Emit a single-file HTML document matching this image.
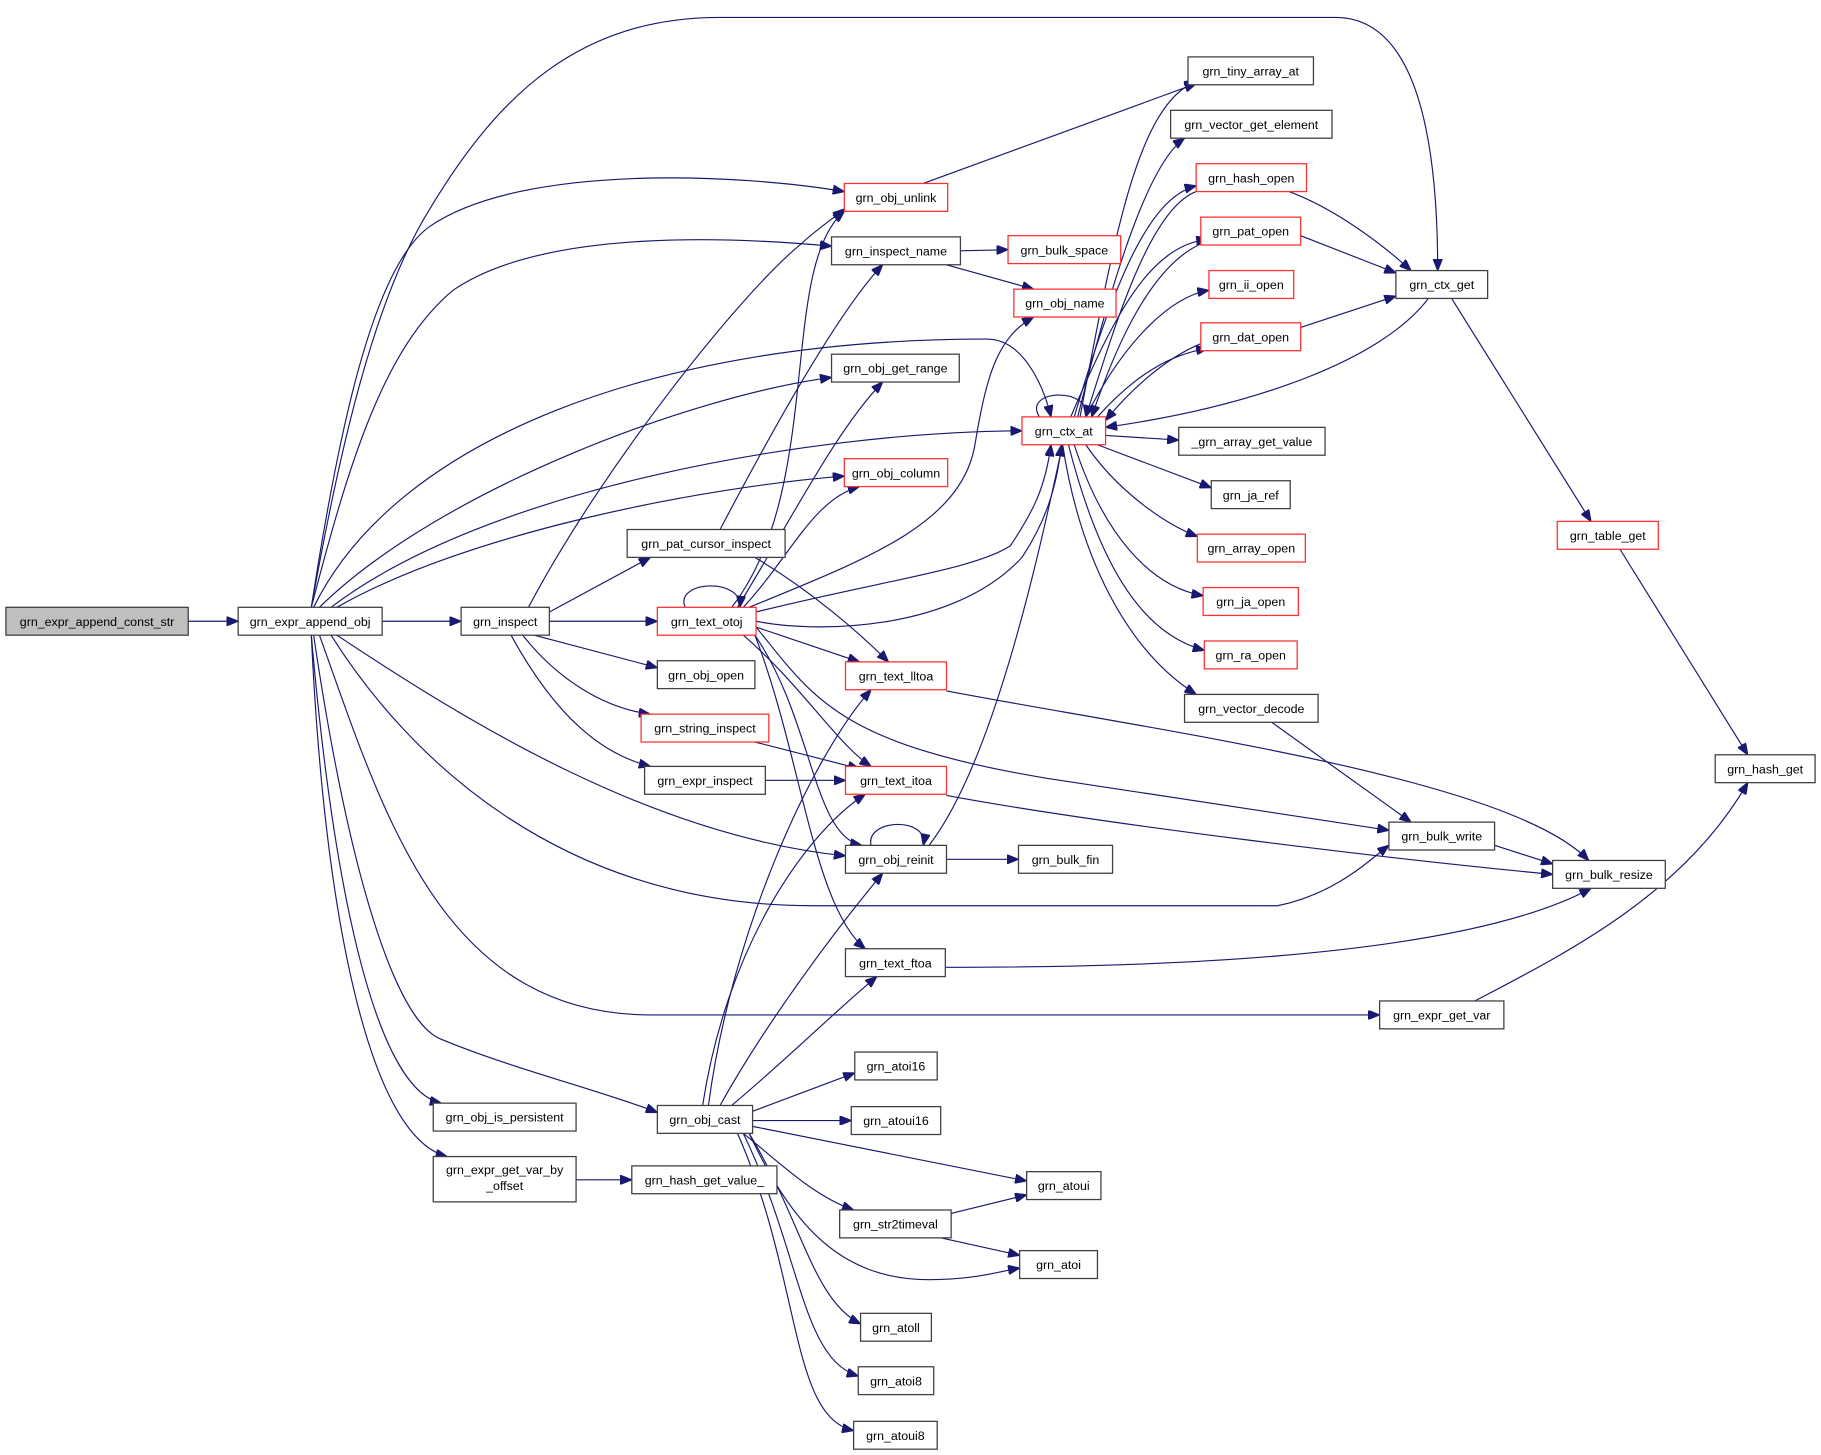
<!DOCTYPE html>
<html><head><meta charset="utf-8"><style>
html,body{margin:0;padding:0;background:#fff;}
svg{display:block;}
text{font-family:"Liberation Sans",sans-serif;font-size:10.7px;fill:#000;text-anchor:middle;}
.n{fill:#fff;stroke:#404040;stroke-width:1.1;}
.r{fill:#fff;stroke:#ff3030;stroke-width:1.1;}
.g{fill:#bfbfbf;stroke:#404040;stroke-width:1.1;}
path.e{fill:none;stroke:#191970;stroke-width:1;marker-end:url(#a);}
</style></head><body>
<svg width="1821" height="1455" viewBox="0 0 1568 1253" xmlns="http://www.w3.org/2000/svg">
<defs><marker id="a" viewBox="0 0 10 8" refX="10" refY="4" markerWidth="10" markerHeight="8" markerUnits="userSpaceOnUse" orient="auto"><path d="M0,0 L10,4 L0,8 z" fill="#191970" stroke="#191970"/></marker></defs>

<path class="e" d="M162,535 L205,535"/>
<path class="e" d="M329,535 L397,535"/>
<path class="e" d="M268,523 C290,400 320,260 370,180 C430,80 500,15 620,15 L1150,15 C1220,15 1238,120 1238,233"/>
<path class="e" d="M268,523 C290,380 320,230 370,195 C450,140 640,150 727,165"/>
<path class="e" d="M268,523 C300,400 330,300 390,250 C470,195 640,205 716,212"/>
<path class="e" d="M270,523 C340,380 560,292 850,292 C880,292 898,330 905,359"/>
<path class="e" d="M275,523 C380,420 600,340 716,325"/>
<path class="e" d="M285,523 C420,420 700,372 880,371"/>
<path class="e" d="M290,523 C400,460 600,420 727,410"/>
<path class="e" d="M290,547 C400,620 560,720 728,737"/>
<path class="e" d="M285,547 C350,650 480,780 700,780 L1100,780 C1150,770 1180,740 1196,728"/>
<path class="e" d="M275,547 C330,700 380,874 560,874 L1188,874"/>
<path class="e" d="M270,547 C300,750 340,880 380,895 C440,920 520,940 566,958"/>
<path class="e" d="M268,547 C290,800 330,940 380,950"/>
<path class="e" d="M268,547 C280,800 320,980 385,996"/>
<path class="e" d="M455,523 C520,400 640,250 690,210 C700,200 715,190 727,180"/>
<path class="e" d="M473,527 L560,480"/>
<path class="e" d="M473,535 L566,535"/>
<path class="e" d="M460,547 L566,575"/>
<path class="e" d="M450,547 C480,585 520,610 560,615"/>
<path class="e" d="M440,547 C480,620 520,650 560,660"/>
<path class="e" d="M620,456 C660,380 720,270 760,228"/>
<path class="e" d="M650,480 C700,510 740,545 765,570"/>
<path class="e" d="M590,523 C580,500 640,497 637,523"/>
<path class="e" d="M630,523 C710,420 670,230 727,182"/>
<path class="e" d="M635,523 C680,450 720,370 760,329"/>
<path class="e" d="M640,523 C680,480 700,430 740,419"/>
<path class="e" d="M645,523 C750,480 830,450 840,380 C850,320 860,290 890,273"/>
<path class="e" d="M651,527 C760,500 840,490 870,470 C890,440 900,420 905,383"/>
<path class="e" d="M651,535 C700,545 820,545 880,480 C900,450 910,420 914,383"/>
<path class="e" d="M651,540 L740,570"/>
<path class="e" d="M640,547 C690,590 720,640 750,660"/>
<path class="e" d="M650,547 C700,620 700,720 742,728"/>
<path class="e" d="M650,547 C690,650 700,780 745,817"/>
<path class="e" d="M651,540 C700,600 720,640 900,670 L1196,715"/>
<path class="e" d="M650,639 L740,662"/>
<path class="e" d="M659,672 L728,672"/>
<path class="e" d="M750,728 C745,705 800,703 795,728"/>
<path class="e" d="M815,740 L877,740"/>
<path class="e" d="M800,728 C860,650 900,450 915,383"/>
<path class="e" d="M827,216 L868,215"/>
<path class="e" d="M815,228 L890,249"/>
<path class="e" d="M795,158 L1030,72"/>
<path class="e" d="M895,359 C880,335 940,333 935,359"/>
<path class="e" d="M930,359 C960,200 980,90 1030,70"/>
<path class="e" d="M928,359 C960,230 990,140 1020,119"/>
<path class="e" d="M925,359 C960,240 990,170 1030,160"/>
<path class="e" d="M922,359 C960,270 990,212 1040,206"/>
<path class="e" d="M935,359 C970,290 1010,255 1041,250"/>
<path class="e" d="M945,359 C980,320 1010,305 1040,300"/>
<path class="e" d="M1030,165 C990,180 960,280 935,359"/>
<path class="e" d="M1034,210 C990,230 960,300 940,359"/>
<path class="e" d="M1034,296 C1000,310 970,340 952,362"/>
<path class="e" d="M952,375 L1015,379"/>
<path class="e" d="M945,383 L1043,420"/>
<path class="e" d="M935,383 C960,420 1000,450 1031,462"/>
<path class="e" d="M925,383 C950,460 990,505 1036,513"/>
<path class="e" d="M920,383 C945,480 980,545 1037,560"/>
<path class="e" d="M915,383 C930,480 970,560 1030,598"/>
<path class="e" d="M1110,165 C1150,180 1190,210 1215,233"/>
<path class="e" d="M1120,203 L1202,235"/>
<path class="e" d="M1120,282 L1202,255"/>
<path class="e" d="M1230,257 C1190,310 1080,350 952,368"/>
<path class="e" d="M1250,257 L1370,449"/>
<path class="e" d="M1395,473 L1505,650"/>
<path class="e" d="M1095,622 L1215,708"/>
<path class="e" d="M815,595 C1000,630 1300,670 1368,741"/>
<path class="e" d="M815,685 C950,710 1200,740 1337,753"/>
<path class="e" d="M1287,728 L1337,744"/>
<path class="e" d="M814,833 C950,833 1250,830 1370,765"/>
<path class="e" d="M1270,862 C1350,820 1450,770 1505,674"/>
<path class="e" d="M496,1016 L544,1016"/>
<path class="e" d="M610,952 C630,800 700,650 750,594"/>
<path class="e" d="M605,952 C625,820 690,720 745,684"/>
<path class="e" d="M620,952 C660,880 720,800 760,752"/>
<path class="e" d="M630,952 C680,910 720,870 755,841"/>
<path class="e" d="M648,957 L736,924"/>
<path class="e" d="M648,965 L733,965"/>
<path class="e" d="M648,970 L884,1017"/>
<path class="e" d="M640,976 C670,1000 700,1030 735,1042"/>
<path class="e" d="M819,1045 L884,1029"/>
<path class="e" d="M810,1066 L878,1081"/>
<path class="e" d="M645,976 C680,1050 720,1102 800,1102 C840,1102 860,1095 878,1092"/>
<path class="e" d="M645,976 C690,1050 700,1120 741,1140"/>
<path class="e" d="M640,976 C690,1080 690,1170 739,1185"/>
<path class="e" d="M635,976 C690,1100 680,1220 735,1232"/>

<g>
<rect class="g" x="5" y="523" width="157" height="24"/><text x="83.5" y="539">grn_expr_append_const_str</text>
<rect class="n" x="205" y="523" width="124" height="24"/><text x="267" y="539">grn_expr_append_obj</text>
<rect class="n" x="397" y="523" width="76" height="24"/><text x="435" y="539">grn_inspect</text>
<rect class="r" x="727" y="158" width="89" height="24"/><text x="771.5" y="174">grn_obj_unlink</text>
<rect class="n" x="716" y="204" width="111" height="24"/><text x="771.5" y="220">grn_inspect_name</text>
<rect class="n" x="716" y="305" width="110" height="24"/><text x="771" y="321">grn_obj_get_range</text>
<rect class="r" x="727" y="395" width="89" height="24"/><text x="771.5" y="411">grn_obj_column</text>
<rect class="n" x="540" y="456" width="136" height="24"/><text x="608" y="472">grn_pat_cursor_inspect</text>
<rect class="r" x="566" y="523" width="85" height="24"/><text x="608.5" y="539">grn_text_otoj</text>
<rect class="n" x="566" y="569" width="84" height="24"/><text x="608" y="585">grn_obj_open</text>
<rect class="r" x="552" y="615" width="110" height="24"/><text x="607" y="631">grn_string_inspect</text>
<rect class="n" x="555" y="660" width="104" height="24"/><text x="607" y="676">grn_expr_inspect</text>
<rect class="r" x="728" y="570" width="87" height="24"/><text x="771.5" y="586">grn_text_lltoa</text>
<rect class="r" x="728" y="660" width="87" height="24"/><text x="771.5" y="676">grn_text_itoa</text>
<rect class="n" x="728" y="728" width="87" height="24"/><text x="771.5" y="744">grn_obj_reinit</text>
<rect class="n" x="877" y="728" width="81" height="24"/><text x="917.5" y="744">grn_bulk_fin</text>
<rect class="n" x="728" y="817" width="86" height="24"/><text x="771" y="833">grn_text_ftoa</text>
<rect class="r" x="868" y="203" width="97" height="24"/><text x="916.5" y="219">grn_bulk_space</text>
<rect class="r" x="873" y="249" width="88" height="24"/><text x="917" y="265">grn_obj_name</text>
<rect class="r" x="880" y="359" width="72" height="24"/><text x="916" y="375">grn_ctx_at</text>
<rect class="n" x="1023" y="49" width="108" height="24"/><text x="1077" y="65">grn_tiny_array_at</text>
<rect class="n" x="1008" y="95" width="139" height="24"/><text x="1077.5" y="111">grn_vector_get_element</text>
<rect class="r" x="1030" y="141" width="95" height="24"/><text x="1077.5" y="157">grn_hash_open</text>
<rect class="r" x="1034" y="187" width="86" height="24"/><text x="1077" y="203">grn_pat_open</text>
<rect class="r" x="1041" y="233" width="73" height="24"/><text x="1077.5" y="249">grn_ii_open</text>
<rect class="r" x="1034" y="278" width="86" height="24"/><text x="1077" y="294">grn_dat_open</text>
<rect class="n" x="1015" y="368" width="126" height="24"/><text x="1078" y="384">_grn_array_get_value</text>
<rect class="n" x="1043" y="414" width="68" height="24"/><text x="1077" y="430">grn_ja_ref</text>
<rect class="r" x="1031" y="460" width="93" height="24"/><text x="1077.5" y="476">grn_array_open</text>
<rect class="r" x="1036" y="506" width="82" height="24"/><text x="1077" y="522">grn_ja_open</text>
<rect class="r" x="1037" y="552" width="80" height="24"/><text x="1077" y="568">grn_ra_open</text>
<rect class="n" x="1020" y="598" width="115" height="24"/><text x="1077.5" y="614">grn_vector_decode</text>
<rect class="n" x="1202" y="233" width="79" height="24"/><text x="1241.5" y="249">grn_ctx_get</text>
<rect class="r" x="1341" y="449" width="87" height="24"/><text x="1384.5" y="465">grn_table_get</text>
<rect class="n" x="1477" y="650" width="86" height="24"/><text x="1520" y="666">grn_hash_get</text>
<rect class="n" x="1196" y="708" width="91" height="24"/><text x="1241.5" y="724">grn_bulk_write</text>
<rect class="n" x="1337" y="741" width="97" height="24"/><text x="1385.5" y="757">grn_bulk_resize</text>
<rect class="n" x="1188" y="862" width="107" height="24"/><text x="1241.5" y="878">grn_expr_get_var</text>
<rect class="n" x="373" y="950" width="123" height="24"/><text x="434.5" y="966">grn_obj_is_persistent</text>
<rect class="n" x="373" y="996" width="123" height="39"/><text x="434.5" y="1011">grn_expr_get_var_by</text><text x="434.5" y="1025">_offset</text>
<rect class="n" x="544" y="1004" width="125" height="24"/><text x="606.5" y="1020">grn_hash_get_value_</text>
<rect class="n" x="566" y="952" width="82" height="24"/><text x="607" y="968">grn_obj_cast</text>
<rect class="n" x="736" y="906" width="71" height="24"/><text x="771.5" y="922">grn_atoi16</text>
<rect class="n" x="733" y="953" width="77" height="24"/><text x="771.5" y="969">grn_atoui16</text>
<rect class="n" x="884" y="1009" width="64" height="24"/><text x="916" y="1025">grn_atoui</text>
<rect class="n" x="723" y="1042" width="96" height="24"/><text x="771" y="1058">grn_str2timeval</text>
<rect class="n" x="878" y="1077" width="67" height="24"/><text x="911.5" y="1093">grn_atoi</text>
<rect class="n" x="741" y="1131" width="61" height="24"/><text x="771.5" y="1147">grn_atoll</text>
<rect class="n" x="739" y="1177" width="65" height="24"/><text x="771.5" y="1193">grn_atoi8</text>
<rect class="n" x="735" y="1224" width="72" height="24"/><text x="771" y="1240">grn_atoui8</text>
</g>
</svg>
</body></html>
